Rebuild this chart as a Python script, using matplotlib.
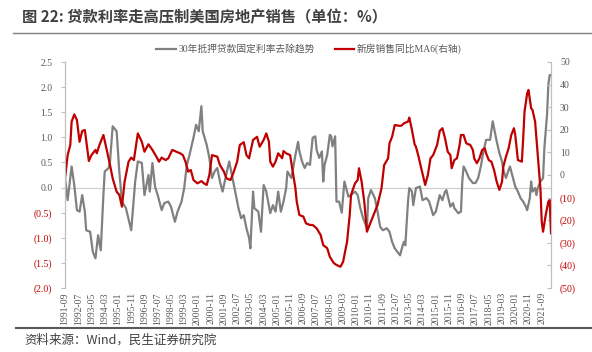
import matplotlib
matplotlib.use("Agg")
import matplotlib.pyplot as plt
from matplotlib.lines import Line2D

# 月份序号（0 = 1991-09）和读数
gray_month = [0, 2, 5, 7, 9, 11, 13, 15, 16, 19, 21, 23, 25, 27, 29, 30, 33, 34, 36, 39,
              41, 43, 46, 50, 53, 55, 58, 60, 63, 64, 66, 68, 70, 73, 75, 78, 80, 83, 85, 88,
              90, 92, 94, 97, 99, 101, 103, 104, 107, 109, 111, 113, 115, 117, 119, 122, 124, 127, 130, 131,
              133, 135, 137, 139, 140, 142, 143, 146, 148, 150, 152, 155, 157, 159, 161, 163, 165, 167, 168, 171,
              174, 176, 177, 179, 181, 183, 185, 187, 189, 190, 192, 194, 195, 196, 198, 200, 201, 202, 204, 205,
              207, 209, 211, 214, 216, 219, 221, 223, 225, 228, 229, 231, 234, 236, 238, 240, 243, 245, 247, 249,
              251, 253, 255, 256, 257, 259, 260, 262, 263, 265, 268, 270, 273, 275, 278, 280, 283, 285, 287, 288,
              291, 293, 294, 297, 299, 300, 301, 303, 305, 308, 310, 312, 314, 316, 318, 320, 321, 323, 324, 326,
              328, 330, 331, 333, 335, 336, 338, 340, 342, 344, 346, 348, 349, 351, 352, 353, 355, 356, 357, 359,
              360, 361, 362, 364, 365, 366, 367]
gray_value = [0.19, -0.25, 0.42, 0.05, -0.45, -0.48, -0.15, -0.48, -0.85, -0.88, -1.28, -1.41, -0.95, -1.25, -0.15, 0.32, 0.39, 0.52, 1.22, 1.12,
              0.32, -0.28, -0.41, -0.85, 0.12, 0.52, 0.49, -0.15, 0.25, -0.08, 0.49, 0.02, -0.15, -0.45, -0.31, -0.28, -0.38, -0.68, -0.48, -0.28,
              -0.01, 0.45, 0.65, 0.99, 1.25, 1.12, 1.62, 1.12, 0.85, 0.59, 0.19, 0.32, 0.39, 0.12, -0.08, 0.29, 0.52, 0.12, -0.28, -0.41,
              -0.61, -0.55, -0.81, -1.0, -1.21, -0.08, -0.41, -0.48, -0.88, 0.05, -0.08, -0.51, -0.35, -0.48, -0.08, -0.48, -0.28, -0.01, 0.32, 0.19,
              0.65, 0.91, 0.72, 0.52, 0.39, 0.49, 0.45, 0.99, 1.02, 0.75, 0.59, 0.72, 0.12, 0.45, 0.65, 1.05, 1.02, 0.82, 1.02, -0.28,
              -0.28, -0.5, 0.12, -0.18, -0.15, -0.08, -0.15, -0.41, -0.6, -0.81, -0.21, -0.05, -0.21, -0.48, -0.78, -0.85, -0.81, -0.88, -1.08, -1.21,
              -1.28, -1.35, -1.15, -1.08, -1.15, -0.28, -0.01, -0.08, -0.35, -0.01, 0.02, -0.25, -0.21, -0.28, -0.55, -0.48, -0.15, -0.25, -0.08, -0.05,
              -0.38, -0.31, -0.41, -0.51, -0.48, 0.12, 0.42, 0.32, 0.19, 0.09, 0.09, 0.19, 0.42, 0.72, 0.95, 0.95, 0.95, 1.32, 1.19, 0.92,
              0.69, 0.52, 0.35, 0.19, 0.35, 0.42, 0.22, 0.02, -0.08, -0.21, -0.28, -0.38, -0.45, -0.21, 0.12, -0.08, -0.01, -0.15, -0.01, 0.12,
              0.15, 0.19, 0.79, 1.45, 2.05, 2.24, 2.24]

red_month = [0, 2, 4, 5, 7, 9, 11, 13, 15, 18, 20, 23, 24, 26, 29, 31, 34, 36, 39, 41,
             43, 45, 48, 50, 52, 55, 58, 60, 63, 66, 69, 71, 73, 76, 78, 81, 84, 87, 89, 91,
             93, 95, 97, 100, 103, 105, 107, 109, 111, 115, 117, 120, 122, 125, 127, 130, 132, 135, 137, 139,
             142, 145, 147, 150, 152, 154, 155, 157, 159, 161, 164, 165, 167, 170, 172, 174, 175, 177, 180, 182,
             185, 187, 190, 193, 195, 198, 200, 203, 205, 208, 210, 213, 215, 216, 219, 221, 222, 224, 226, 228,
             231, 233, 236, 239, 241, 244, 245, 247, 249, 252, 254, 256, 259, 260, 262, 264, 265, 267, 269, 272,
             274, 276, 278, 281, 283, 285, 287, 289, 291, 292, 294, 296, 298, 299, 301, 303, 306, 308, 309, 311,
             313, 315, 317, 318, 320, 322, 324, 326, 328, 330, 331, 333, 335, 337, 339, 340, 342, 345, 346, 347,
             349, 350, 352, 353, 355, 357, 359, 360, 361, 363, 365, 366, 367]
red_value = [-1.5, 8.8, 13.3, 23.6, 26.8, 24.3, 14.7, 19.5, 19.9, 6.2, 8.8, 11.1, 9.6, 13.3, 17.7, 12.5, 4.4, -1.5, -7.4, -8.8,
             -14.0, -3.0, 5.9, 7.7, 6.6, 18.4, 14.7, 10.3, 13.6, 11.1, 8.1, 5.9, 7.7, 6.6, 7.4, 11.1, 10.3, 9.6, 8.8, 5.9,
             1.5, 2.2, -2.2, -3.7, -2.7, -3.7, -4.4, 0.0, 8.8, 8.1, 4.4, 1.5, -1.5, -2.2, 0.7, 5.9, 13.3, 14.5, 8.8, 7.4,
             15.5, 16.9, 12.5, 15.5, 18.4, 14.7, 5.9, 3.7, 5.9, 9.6, 7.4, 10.6, 9.6, 8.8, 1.5, -5.9, -11.8, -17.7, -18.4, -21.4,
             -22.1, -22.1, -23.6, -26.5, -31.0, -32.4, -36.2, -39.0, -39.8, -40.6, -38.4, -29.5, -17.7, -8.8, -3.7, -2.2, 3.0, -3.0, -11.8, -25.1,
             -20.6, -17.7, -13.3, -5.9, 4.4, 7.4, 14.0, 16.9, 22.1, 21.8, 21.8, 22.9, 23.6, 25.4, 19.9, 13.6, 12.5, 8.1, 3.0, -4.4,
             0.0, 7.4, 8.8, 13.3, 19.5, 20.7, 16.2, 10.3, 8.8, 3.0, 6.6, 7.4, 13.3, 17.7, 17.7, 14.0, 13.3, 11.1, 7.4, 5.2,
             7.4, 11.1, 11.8, 9.6, 6.6, 5.9, 2.2, -3.0, -6.6, -3.0, 3.7, 8.1, 11.8, 17.7, 20.7, 17.7, 6.6, 5.9, 16.2, 28.0,
             36.1, 37.6, 29.5, 28.8, 23.6, 8.8, -5.9, -20.6, -25.1, -17.7, -11.8, -11.1, -25.8]

# x 轴标签（每 10 个月一个）
x_labels = ["1991-09", "1992-07", "1993-05", "1994-03", "1995-01", "1995-11", "1996-09", "1997-07",
            "1998-05", "1999-03", "2000-01", "2000-11", "2001-09", "2002-07", "2003-05", "2004-03",
            "2005-01", "2005-11", "2006-09", "2007-07", "2008-05", "2009-03", "2010-01", "2010-11",
            "2011-09", "2012-07", "2013-05", "2014-03", "2015-01", "2015-11", "2016-09", "2017-07",
            "2018-05", "2019-03", "2020-01", "2020-11", "2021-09"]
x_ticks = [10 * i for i in range(len(x_labels))]

left_ticks = [2.5, 2.0, 1.5, 1.0, 0.5, 0.0, -0.5, -1.0, -1.5, -2.0]
left_labels = ["2.5", "2.0", "1.5", "1.0", "0.5", "0.0", "(0.5)", "(1.0)", "(1.5)", "(2.0)"]
right_ticks = [50, 40, 30, 20, 10, 0, -10, -20, -30, -40, -50]
right_labels = ["50", "40", "30", "20", "10", "0", "(10)", "(20)", "(30)", "(40)", "(50)"]

gray_name = "30年抵押贷款固定利率去除趋势"
red_name = "新房销售同比MA6(右轴)"

serif = ["Liberation Serif", "Noto Sans CJK SC"]
cjk = ["Noto Sans CJK SC", "DejaVu Sans"]
GRAY = "#808080"
RED = "#C00000"
TXT = "#595959"

fig = plt.figure(figsize=(5.92, 3.52), dpi=100)
ax = fig.add_axes([65 / 592, 64 / 352, 486 / 592, 226 / 352])
ax2 = ax.twinx()

ax.axhline(0, color="#d0d0d0", linewidth=0.9, zorder=0)
l1, = ax.plot(gray_month, gray_value, color=GRAY, linewidth=1.6, label=gray_name)
l2, = ax2.plot(red_month, red_value, color=RED, linewidth=1.6, label=red_name)

ax.set_xlim(0, 367)
ax.set_ylim(-2.0, 2.5)
ax2.set_ylim(-50, 50)

ax.set_xticks(x_ticks)
ax.set_xticklabels(x_labels, rotation=90, fontsize=7, color=TXT, family=serif)
ax.tick_params(axis="x", length=0, pad=3)

ax.set_yticks(left_ticks)
ax.set_yticklabels(left_labels, fontsize=7, family=serif)
ax2.set_yticks(right_ticks)
ax2.set_yticklabels(right_labels, fontsize=7, family=serif)
ax.tick_params(axis="y", length=3, color="#bfbfbf", pad=6)
ax2.tick_params(axis="y", direction="in", length=3, color="#bfbfbf", pad=6.5)

for lab, v in zip(ax.get_yticklabels(), left_ticks):
    lab.set_color(RED if v < 0 else TXT)
for lab, v in zip(ax2.get_yticklabels(), right_ticks):
    lab.set_color(RED if v < 0 else TXT)

for a in (ax, ax2):
    a.spines["top"].set_visible(False)
    a.spines["bottom"].set_visible(False)
    a.spines["left"].set_color("#bfbfbf")
    a.spines["right"].set_color("#bfbfbf")

leg = fig.legend([l1, l2], [gray_name, red_name], loc="center", bbox_to_anchor=(0.522, 0.861),
                 ncol=2, frameon=False, handlelength=2.0, handletextpad=0.3, columnspacing=2.0,
                 prop={"family": serif, "size": 7})
for t in leg.get_texts():
    t.set_color(TXT)

# 标题和来源
fig.text(0.037, 0.952, "图 22: 贷款利率走高压制美国房地产销售（单位：%）", ha="left", va="center",
         fontsize=11, fontweight="bold", color="#404040", family=cjk)
fig.add_artist(Line2D([0.022, 1.0], [0.906, 0.906], color="#7f7f7f", linewidth=1.0))
fig.add_artist(Line2D([0.027, 1.0], [0.068, 0.068], color="#595959", linewidth=1.5))
fig.text(0.042, 0.034, "资料来源：Wind，民生证券研究院", ha="left", va="center",
         fontsize=9, color="#404040", family=cjk)

fig.savefig("out.png", dpi=100)
